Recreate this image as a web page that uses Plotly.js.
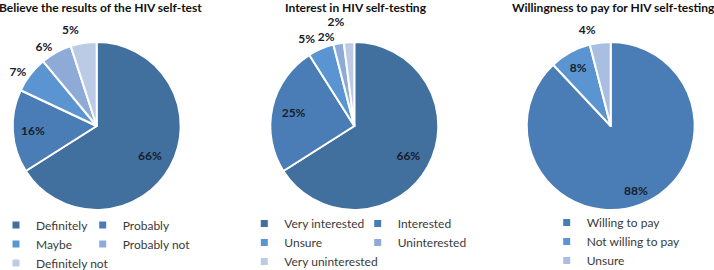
<!DOCTYPE html>
<html>
<head>
<meta charset="utf-8">
<script src="https://cdn.plot.ly/plotly-3.0.1.min.js"></script>
<style>html,body{margin:0;padding:0;background:#fff}#chart{width:714px;height:270px}</style>
</head>
<body>
<div id="chart"></div>
<script>
// ---- data ----
const titles = ["Believe the results of the HIV self-test", "Interest in HIV self-testing", "Willingness to pay for HIV self-testing"];

const believeLabels = ["Definitely", "Probably", "Maybe", "Probably not", "Definitely not"];
const believeValues = [66, 16, 7, 6, 5];

const interestLabels = ["Very interested", "Interested", "Unsure", "Uninterested", "Very uninterested"];
const interestValues = [66, 25, 5, 2, 2];

const payLabels = ["Willing to pay", "Not willing to pay", "Unsure"];
const payValues = [88, 8, 4];

// ---- styles / geometry ----
const fiveColors = ["#41709f", "#4a7db6", "#5a95d1", "#8eabd7", "#bccbe5"];
const payColors = ["#4a7db6", "#5a95d1", "#a9bfe1"];
const FONT = "Lato, 'Open Sans', sans-serif";
const labelFont = {family: FONT, size: 12, color: "#16202c", weight: 700};

const H = 270, W = 714;
const pieCx = [96.7, 354.3, 610.7];
const pieCy = 126, pieR = 84;

function domainFor(idx, rho, wide) {
  const hw = wide ? rho + 6 : rho;
  return {
    x: [(pieCx[idx] - hw) / W, (pieCx[idx] + hw) / W],
    y: [1 - (pieCy + rho) / H, 1 - (pieCy - rho) / H]
  };
}

function common(labels, values) {
  return {
    type: "pie", labels: labels, values: values,
    sort: false, direction: "clockwise", rotation: 0,
    showlegend: false, texttemplate: "%{value}%",
    insidetextorientation: "horizontal",
    insidetextfont: labelFont, outsidetextfont: labelFont
  };
}

// base pie: slices, plus any labels Plotly can place directly
function basePie(labels, values, colors, positions, idx) {
  return Object.assign(common(labels, values), {
    marker: {colors: colors, line: {color: "#ffffff", width: 2}},
    textposition: positions,
    hoverinfo: "label+percent",
    domain: domainFor(idx, pieR, true)
  });
}

// transparent overlay that only carries one slice's label (placed by Plotly)
function labelPie(labels, values, idx, slot, position, hole, rho) {
  const pos = values.map(function (v, i) { return i === slot ? position : "none"; });
  return Object.assign(common(labels, values), {
    marker: {colors: values.map(function () { return "rgba(0,0,0,0)"; }), line: {width: 0}},
    textposition: pos,
    hole: hole,
    hoverinfo: "skip",
    domain: domainFor(idx, rho || pieR, false)
  });
}

const traces = [
  basePie(believeLabels, believeValues, fiveColors, ["none", "none", "outside", "outside", "none"], 0),
  labelPie(believeLabels, believeValues, 0, 0, "inside", 0.45),
  labelPie(believeLabels, believeValues, 0, 1, "inside", 0.52),
  labelPie(believeLabels, believeValues, 0, 4, "outside", 0, 90),

  basePie(interestLabels, interestValues, fiveColors, ["none", "none", "none", "none", "none"], 1),
  labelPie(interestLabels, interestValues, 1, 0, "inside", 0.47),
  labelPie(interestLabels, interestValues, 1, 1, "inside", 0.48),
  labelPie(interestLabels, interestValues, 1, 2, "outside", 0, 89),
  labelPie(interestLabels, interestValues, 1, 3, "outside", 0, 84),
  labelPie(interestLabels, interestValues, 1, 4, "outside", 0, 97),

  basePie(payLabels, payValues, payColors, ["none", "inside", "none"], 2),
  labelPie(payLabels, payValues, 2, 0, "inside", 0.64),
  labelPie(payLabels, payValues, 2, 2, "outside", 0, 90)
];

// legend entries (two columns emulated with separate legends)
function legendEntries(labels, colors, indices, legendId) {
  indices.forEach(function (i) {
    traces.push({
      type: "scatter", mode: "markers", x: [null], y: [null],
      name: labels[i], legend: legendId, hoverinfo: "skip",
      marker: {symbol: "square", size: 7, color: colors[i]}
    });
  });
}
legendEntries(believeLabels, fiveColors, [0, 2, 4], "legend");
legendEntries(believeLabels, fiveColors, [1, 3], "legend2");
legendEntries(interestLabels, fiveColors, [0, 2, 4], "legend3");
legendEntries(interestLabels, fiveColors, [1, 3], "legend4");
legendEntries(payLabels, payColors, [0, 1, 2], "legend5");

const legFont = {family: FONT, size: 12, color: "#3a3a3a"};
function leg(xpx, topPx) {
  return {
    x: xpx / W, y: 1 - topPx / H, xanchor: "left", yanchor: "top",
    orientation: "v", font: legFont, bgcolor: "rgba(0,0,0,0)",
    itemwidth: 30, tracegroupgap: 0, itemclick: false, itemdoubleclick: false
  };
}

const titleCx = [100, 356, 613];
const layout = {
  width: W, height: H,
  margin: {l: 0, r: 0, t: 0, b: 0, autoexpand: false},
  paper_bgcolor: "#ffffff", plot_bgcolor: "#ffffff",
  font: {family: FONT},
  xaxis: {visible: false, fixedrange: true},
  yaxis: {visible: false, fixedrange: true},
  legend: leg(-4, 210.5),
  legend2: leg(82.7, 210.5),
  legend3: leg(244.3, 209),
  legend4: leg(357.7, 209),
  legend5: leg(546.7, 208),
  annotations: titles.map(function (t, i) {
    return {
      text: t, xref: "paper", yref: "paper",
      x: titleCx[i] / W, y: 1 - 7.5 / H, xanchor: "center", yanchor: "middle",
      showarrow: false,
      font: {family: FONT, size: 12, color: "#111111", weight: 700}
    };
  })
};

Plotly.newPlot("chart", traces, layout, {displayModeBar: false, staticPlot: true});
</script>
</body>
</html>
